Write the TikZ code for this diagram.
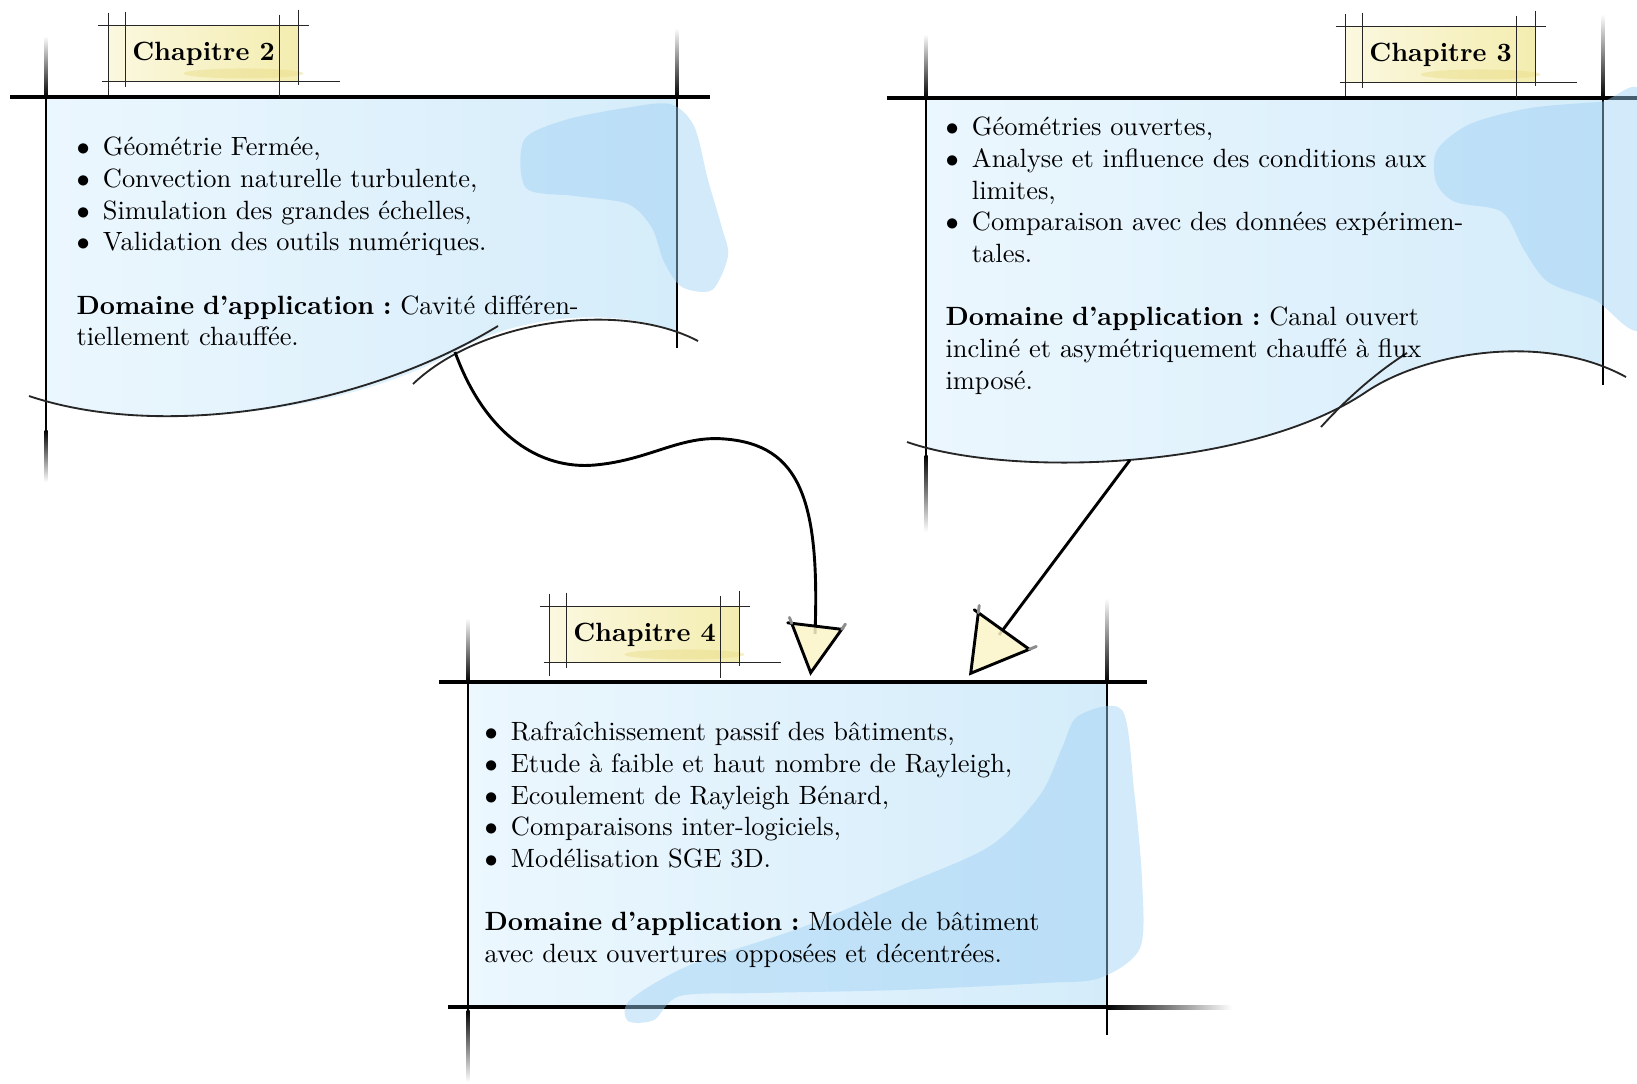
\documentclass[tikz,border=0pt]{standalone}
\usepackage{enumitem}
\usetikzlibrary{calc,positioning}
\definecolor{SketchBlue}{HTML}{ECF7FE}
\definecolor{PaperBlue}{HTML}{D4ECFA}
\definecolor{StainBlue}{HTML}{9DD0F5}
\definecolor{LabelYellow}{HTML}{F4EDB0}
\definecolor{SmearYellow}{HTML}{E9DC86}
\definecolor{HeadYellow}{HTML}{FBF5C8}
\frenchspacing

\begin{document}
\begin{tikzpicture}[x=0.0133cm, y=-0.0133cm,
  rule/.style={line width=1.5pt},
  post/.style={line width=1.1pt},
  guide/.style={line width=0.45pt, black!85},
  wave/.style={line width=0.7pt, black!85},
  link/.style={line width=1.1pt},
  stain/.style={fill=StainBlue, fill opacity=0.45},
  headfill/.style={fill=HeadYellow, fill opacity=0.85},
  headline/.style={line width=1.1pt, line cap=round},
  chaplabel/.style={minimum width=2.514cm, minimum height=0.73cm, inner sep=0pt,
    left color=LabelYellow!40!white, right color=LabelYellow, font=\bfseries},
  textblock/.style={anchor=north west, inner sep=0pt}]
\useasboundingbox (0,0) rectangle (1637,1083);

% papers
\begin{scope}
  \clip (46,97) rectangle (677,480);
  \shade[left color=SketchBlue, right color=PaperBlue] (29,396) .. controls (150,435) and (340,415) .. (455,352) .. controls (510,318) and (620,300) .. (698,341) -- (698,90) -- (29,90) -- cycle;
\end{scope}
\begin{scope}
  \clip (926,98) rectangle (1603,540);
  \shade[left color=SketchBlue, right color=PaperBlue] (907,442) .. controls (1010,478) and (1250,470) .. (1366,392) .. controls (1420,355) and (1540,330) .. (1626,377) -- (1626,90) -- (907,90) -- cycle;
\end{scope}
\shade[left color=SketchBlue, right color=PaperBlue] (468,682) rectangle (1107,1007);

% frame lines
\draw[rule] (10,97) -- (710,97);
\draw[post] (46,97) -- (46,430);
\shade[top color=white, bottom color=black] (44.5,36) rectangle (47.5,97);
\shade[top color=black, bottom color=white] (44.5,430) rectangle (47.5,482);
\draw[post] (677,97) -- (677,348);
\shade[top color=white, bottom color=black] (675.5,28) rectangle (678.5,97);

\draw[rule] (887,98) -- (1637,98);
\draw[post] (926,98) -- (926,455);
\shade[top color=white, bottom color=black] (924.5,34) rectangle (927.5,98);
\shade[top color=black, bottom color=white] (924.5,455) rectangle (927.5,532);
\draw[post] (1603,98) -- (1603,385);
\shade[top color=white, bottom color=black] (1601.5,14) rectangle (1604.5,98);

\draw[rule] (439,682) -- (1147,682);
\draw[rule] (448,1007) -- (1107,1007);
\shade[left color=black, right color=white] (1107,1005) rectangle (1232,1009);
\draw[post] (468,682) -- (468,1010);
\shade[top color=white, bottom color=black] (466.5,618) rectangle (469.5,682);
\shade[top color=black, bottom color=white] (466.5,1010) rectangle (469.5,1082);
\draw[post] (1107,682) -- (1107,1035);
\shade[top color=white, bottom color=black] (1105.5,598) rectangle (1108.5,682);

% stains
\fill[stain] plot[smooth cycle] coordinates {(524,140) (565,120) (625,108) (670,104) (694,126) (708,180) (722,228) (728,256) (712,290) (682,287) (664,262) (652,228) (628,204) (575,196) (526,188)};
\fill[stain] plot[smooth cycle] coordinates {(1437,150) (1470,124) (1530,108) (1600,102) (1645,100) (1645,322) (1595,300) (1548,282) (1524,250) (1502,212) (1455,202) (1436,182)};
\fill[stain] plot[smooth cycle] coordinates {(1078,716) (1122,710) (1134,790) (1142,880) (1140,948) (1100,978) (1044,983) (900,990) (760,993) (680,996) (654,1020) (628,1021) (630,1000) (690,965) (800,928) (900,886) (990,846) (1040,795) (1062,748)};

% waves
\draw[wave] (29,396) .. controls (160,440) and (360,410) .. (498,326);
\draw[wave] (413,384) .. controls (480,320) and (620,300) .. (698,341);
\draw[wave] (907,442) .. controls (1010,478) and (1250,470) .. (1366,392) .. controls (1420,355) and (1540,330) .. (1626,377);
\draw[wave] (1321,427) .. controls (1350,395) and (1380,370) .. (1407,353);

% chapter labels
\foreach \n/\cx/\cy in {2/203.5/53.5, 3/1440.5/54.5, 4/644.5/634.5}{
  \node[chaplabel] (chap\n) at (\cx,\cy) {Chapitre \n};
  \fill[SmearYellow, opacity=0.45] ($(chap\n.south)+(40,-8)$) ellipse [x radius=60, y radius=5];
  \draw[guide] ($(chap\n.north west)+(-10,0)$) -- ($(chap\n.north east)+(10,0)$);
  \draw[guide] ($(chap\n.south west)+(-6,0)$) -- ($(chap\n.south east)+(41,0)$);
  \draw[guide] ($(chap\n.north west)+(0,-13)$) -- ($(chap\n.south west)+(0,14)$);
  \draw[guide] ($(chap\n.north west)+(17,-14)$) -- ($(chap\n.south west)+(17,6)$);
  \draw[guide] ($(chap\n.north east)+(-19,-11)$) -- ($(chap\n.south east)+(-19,16)$);
  \draw[guide] ($(chap\n.north east)+(0,-16)$) -- ($(chap\n.south east)+(0,4)$);
}

% texts
\node[textblock, text width=6.76cm] (list2) at (76,123.5) {%
\begin{itemize}[label=$\bullet$, leftmargin=*, nosep]
\item Géométrie Fermée,
\item Convection naturelle turbulente,
\item Simulation des grandes échelles,
\item Validation des outils numériques.
\end{itemize}
\vspace{\baselineskip}
\noindent\textbf{Domaine d’application :} Cavité différen\-tiellement chauffée.};

\node[textblock, text width=6.344cm] (list3) at (945,103.5) {%
\begin{itemize}[label=$\bullet$, leftmargin=*, rightmargin=-0.85cm, nosep]
\item Géométries ouvertes,
\item Analyse et influence des conditions aux\newline limites,
\item Comparaison avec des données expérimen-\newline tales.
\end{itemize}
\vspace{\baselineskip}
\noindent\textbf{Domaine d’application :} Canal ouvert incliné et asymétriquement chauffé à flux imposé.};

\node[textblock, text width=7.45cm] (list4) at (484,708.5) {%
\begin{itemize}[label=$\bullet$, leftmargin=*, nosep]
\item Rafraîchissement passif des bâtiments,
\item Etude à faible et haut nombre de Rayleigh,
\item Ecoulement de Rayleigh Bénard,
\item Comparaisons inter-logiciels,
\item Modélisation SGE 3D.
\end{itemize}
\vspace{\baselineskip}
\noindent\textbf{Domaine d’application :} Modèle de bâtiment avec deux ouvertures opposées et décentrées.};

% arrows
\coordinate (src2) at (455,352);
\coordinate (src3) at (1130,460);
\coordinate (h1a) at (791.7,623.3);
\coordinate (h1b) at (841.7,629.3);
\coordinate (h1c) at (810.7,672.7);
\coordinate (h1m) at (815,634);
\coordinate (h2a) at (978.3,612.7);
\coordinate (h2b) at (1029.3,649.3);
\coordinate (h2c) at (970.7,673.3);
\coordinate (h2m) at (999,635);

\draw[link] (src2) .. controls (485,435) and (540,470) .. (595,465) .. controls (650,460) and (680,435) .. (725,439) .. controls (800,445) and (820,500) .. (h1m);
\draw[link] (src3) -- (h2m);

\foreach \h in {h1,h2}{
  \fill[headfill] (\h a) -- (\h b) -- (\h c) -- cycle;
  \draw[headline] ($(\h b)!1.08!(\h a)$) -- (\h b) -- (\h c) -- (\h a);
  \draw[headline, black!45] (\h a) -- ($(\h c)!1.12!(\h a)$);
  \draw[headline, black!45] (\h b) -- ($(\h c)!1.12!(\h b)$);
}
\end{tikzpicture}
\end{document}
